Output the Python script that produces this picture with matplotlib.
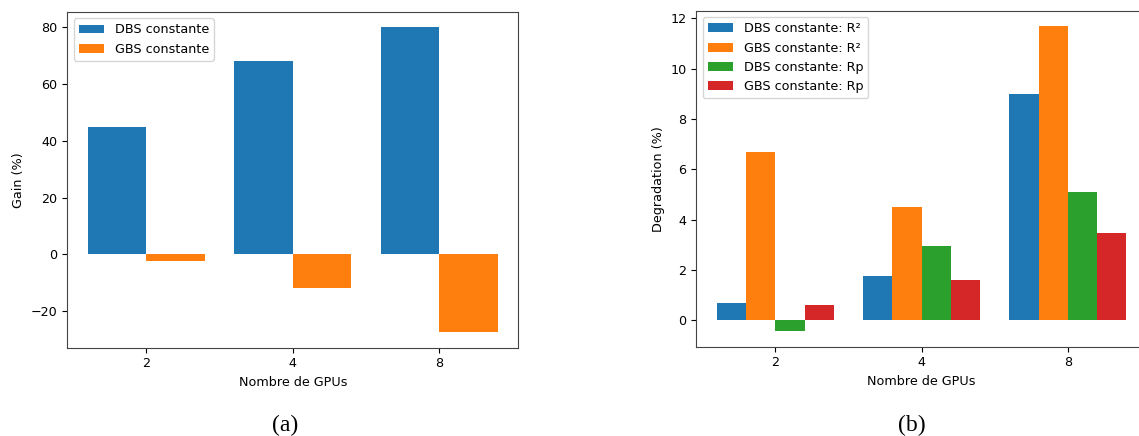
import numpy as np
import matplotlib
matplotlib.use("Agg")
import matplotlib.pyplot as plt

gpus = ["2", "4", "8"]

# (a) Gain
gain_dbs = [45.0, 68.0, 80.0]
gain_gbs = [-2.5, -12.0, -27.5]

# (b) Degradation
deg_dbs_r2 = [0.7, 1.75, 9.0]
deg_gbs_r2 = [6.7, 4.5, 11.7]
deg_dbs_rp = [-0.45, 2.95, 5.1]
deg_gbs_rp = [0.6, 1.6, 3.45]

FS = 9.2
plt.rcParams['font.family'] = ['DejaVu Sans']
plt.rcParams['font.size'] = FS

fig = plt.figure(figsize=(11.39, 4.36), dpi=100)

x = np.arange(len(gpus))

ax1 = fig.add_axes([0.0591, 0.2025, 0.3960, 0.7700])
ax1.bar(x - 0.2, gain_dbs, width=0.4, color='#1f77b4', label='DBS constante')
ax1.bar(x + 0.2, gain_gbs, width=0.4, color='#ff7f0e', label='GBS constante')
ax1.set_xticks(x)
ax1.set_xticklabels(gpus)
ax1.set_xlabel('Nombre de GPUs', fontsize=FS)
ax1.set_ylabel('Gain (%)', fontsize=FS)
ax1.legend(loc='upper left', fontsize=FS)

ax2 = fig.add_axes([0.6113, 0.2048, 0.3957, 0.7707])
w = 0.2
ax2.bar(x - 1.5 * w, deg_dbs_r2, width=w, color='#1f77b4', label='DBS constante: R²')
ax2.bar(x - 0.5 * w, deg_gbs_r2, width=w, color='#ff7f0e', label='GBS constante: R²')
ax2.bar(x + 0.5 * w, deg_dbs_rp, width=w, color='#2ca02c', label='DBS constante: Rp')
ax2.bar(x + 1.5 * w, deg_gbs_rp, width=w, color='#d62728', label='GBS constante: Rp')
ax2.set_xticks(x)
ax2.set_xticklabels(gpus)
ax2.set_xlabel('Nombre de GPUs', fontsize=FS)
ax2.set_ylabel('Degradation (%)', fontsize=FS)
ax2.legend(loc='upper left', fontsize=FS)

for ax in (ax1, ax2):
    ax.tick_params(labelsize=FS)
    for s in ax.spines.values():
        s.set_color('#444444')

fig.text(285 / 1139, 1 - 425 / 436, '(a)', ha='center', va='center',
         fontsize=17, family=['Liberation Serif', 'DejaVu Serif'])
fig.text(912 / 1139, 1 - 425 / 436, '(b)', ha='center', va='center',
         fontsize=17, family=['Liberation Serif', 'DejaVu Serif'])

fig.savefig('out.png', dpi=100)
